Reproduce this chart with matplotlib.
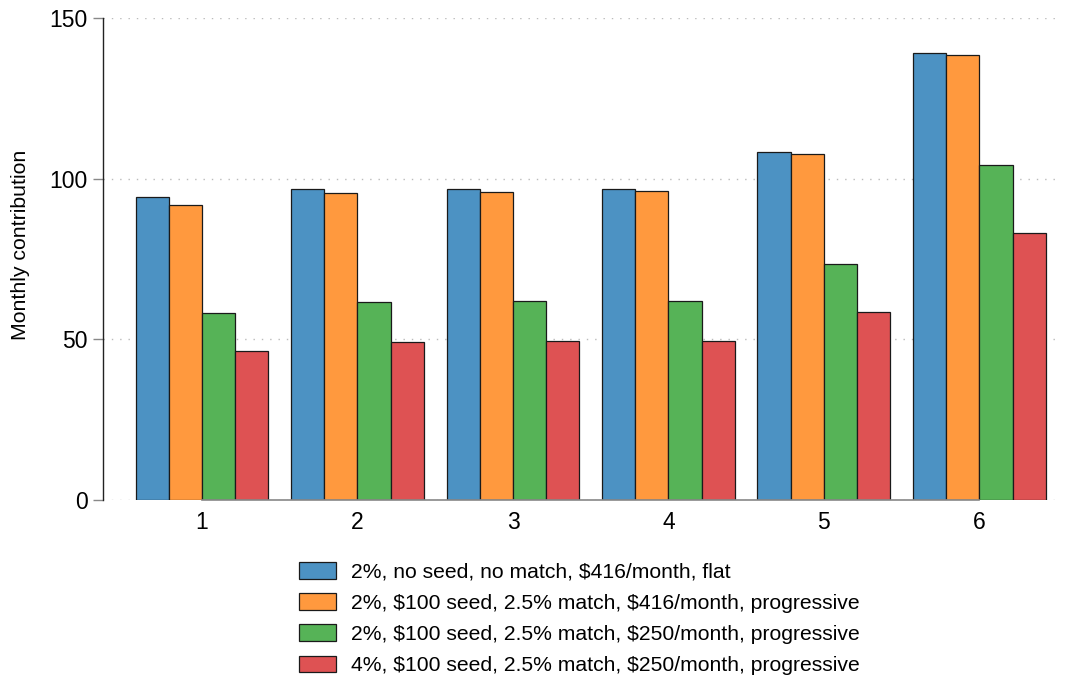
import matplotlib
matplotlib.use("Agg")
import matplotlib.pyplot as plt
import numpy as np

plt.rcParams['font.family'] = ['Liberation Sans', 'DejaVu Sans']
plt.rcParams['text.parse_math'] = False

groups = [1, 2, 3, 4, 5, 6]
series_labels = [
    "2%, no seed, no match, $416/month, flat",
    "2%, $100 seed, 2.5% match, $416/month, progressive",
    "2%, $100 seed, 2.5% match, $250/month, progressive",
    "4%, $100 seed, 2.5% match, $250/month, progressive",
]
s1 = [94.3, 96.9, 96.8, 96.9, 108.3, 139.1]
s2 = [91.7, 95.5, 95.9, 96.3, 107.6, 138.4]
s3 = [58.1, 61.7, 62.0, 61.9, 73.4, 104.1]
s4 = [46.3, 49.2, 49.5, 49.6, 58.5, 83.1]
series = [s1, s2, s3, s4]
colors = ["#4C92C3", "#FF993E", "#56B357", "#DE5253"]
yticks = [0, 50, 100, 150]

fig = plt.figure(figsize=(10.7, 6.78), dpi=100)
ax = fig.add_axes([103/1070, 1-500/678, (1055-103)/1070, (500-18)/678])

x = np.array(groups, dtype=float)
w = 0.2137
offsets = (np.arange(4) - 1.5) * w
for i, (vals, c, lab) in enumerate(zip(series, colors, series_labels)):
    ax.bar(x + offsets[i], vals, width=w, color=c, edgecolor="#1a1a1a",
           linewidth=0.9, label=lab, zorder=3)

ax.set_xlim(0.3633, 6.486)
ax.set_ylim(0, 150)
ax.set_yticks(yticks)
ax.set_xticks(groups)
ax.set_xticklabels([str(g) for g in groups])
for y in yticks:
    ax.axhline(y, color="#bbbbbb", lw=1.0, linestyle=(0, (1, 5)), zorder=1)

for s in ["top", "right"]:
    ax.spines[s].set_visible(False)
ax.spines["left"].set_color("#222222")
ax.spines["left"].set_linewidth(1.0)
ax.spines["bottom"].set_color("#888888")
ax.spines["bottom"].set_linewidth(1.2)
ax.spines["bottom"].set_bounds(1, 6)
ax.spines["bottom"].set_zorder(4)
ax.tick_params(axis="y", length=7, width=1, color="#888888", labelsize=16.5, pad=4)
ax.tick_params(axis="x", length=0, labelsize=16.5, pad=8)
ax.set_ylabel("Monthly contribution", fontsize=15.3)
ax.yaxis.set_label_coords(-0.0767, 0.529)

fig.legend(loc="upper center", bbox_to_anchor=(579/1070, 1-554/678),
           frameon=False, fontsize=15.2, handlelength=1.75, handleheight=0.8,
           handletextpad=0.71, labelspacing=0.55, borderaxespad=0)

fig.savefig("out.png", dpi=100)
